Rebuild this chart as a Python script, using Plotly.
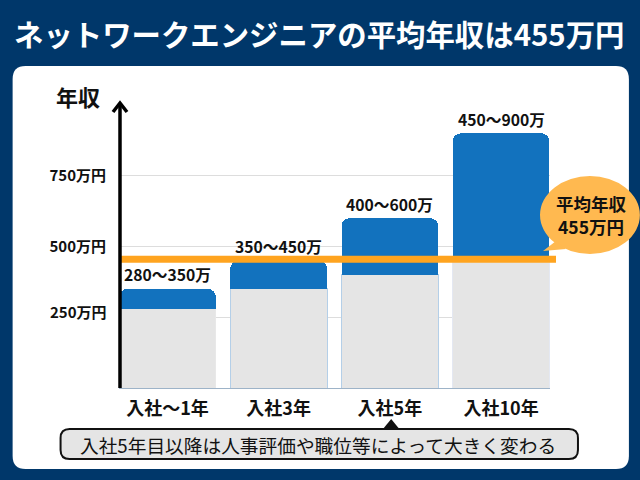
import plotly.graph_objects as go

categories = ["入社〜1年", "入社3年", "入社5年", "入社10年"]
low = [280, 350, 400, 450]
high = [350, 450, 600, 900]
range_labels = ["280〜350万", "350〜450万", "400〜600万", "450〜900万"]
average = 455
tick_vals = [250, 500, 750, 1000]
tick_text = ["", "500万円", "750万円", ""]
raised_tick = 250
raised_tick_text = "250万円"

FONT = "Noto Sans CJK JP"
NAVY = "#00376a"
BLUE = "#1272be"
GREY = "#e5e5e5"
ORANGE = "#ffa41f"
BUBBLE = "#ffb950"

# plot area in page pixels
L, R, T, B = 118.5, 550, 105, 388


def px(x):
    return (x - L) / (R - L)


def py(y):
    return (B - y) / (B - T)


def rounded(x0, y0, x1, y1, r):
    return (f"M{px(x0 + r)},{py(y0)} L{px(x1 - r)},{py(y0)} Q{px(x1)},{py(y0)} {px(x1)},{py(y0 + r)} "
            f"L{px(x1)},{py(y1 - r)} Q{px(x1)},{py(y1)} {px(x1 - r)},{py(y1)} L{px(x0 + r)},{py(y1)} "
            f"Q{px(x0)},{py(y1)} {px(x0)},{py(y1 - r)} L{px(x0)},{py(y0 + r)} Q{px(x0)},{py(y0)} {px(x0 + r)},{py(y0)} Z")


def paper_path(path, color, layer="above", line=None):
    return dict(type="path", xref="paper", yref="paper", path=path, fillcolor=color,
                line=line or dict(width=0), layer=layer)


def label(x, y, text, size, color="#111111", bold=True):
    return dict(xref="paper", yref="paper", x=px(x), y=py(y), text=f"<b>{text}</b>" if bold else text,
                showarrow=False, xanchor="center", yanchor="middle",
                font=dict(family=FONT, size=size, color=color))


fig = go.Figure()
fig.add_trace(go.Bar(x=categories, y=low, width=0.87, marker=dict(
    color=GREY, line=dict(color=["#e8e8e8", "#b4cfe8", "#b4cfe8", "#e4e8f2"], width=1))))
fig.add_trace(go.Bar(x=categories, y=[h - l for h, l in zip(high, low)], width=0.87,
                     marker=dict(color=BLUE, cornerradius=8, line=dict(width=0))))

shapes = [
    paper_path(rounded(12, 66, 629, 469, 13), "white", layer="below"),
    # average line
    dict(type="line", xref="paper", yref="y", x0=px(120), x1=px(556), y0=average, y1=average,
         line=dict(color=ORANGE, width=7), layer="above"),
    # y axis arrow
    dict(type="line", xref="paper", yref="paper", x0=px(119.5), x1=px(119.5), y0=py(388), y1=py(103),
         line=dict(color="black", width=3.5)),
    paper_path(f"M{px(112.5)},{py(112)} L{px(119.5)},{py(103)} L{px(126.5)},{py(112)}", "rgba(0,0,0,0)",
               line=dict(color="black", width=3.5)),
    # callout bubble
    dict(type="circle", xref="paper", yref="paper", x0=px(540), x1=px(640), y0=py(176), y1=py(254),
         fillcolor=BUBBLE, line=dict(width=0)),
    paper_path(f"M{px(543)},{py(251)} L{px(556)},{py(241)} L{px(566)},{py(249)} Z", BUBBLE),
    # note box with pointer
    paper_path(f"M{px(382)},{py(430)} L{px(391)},{py(419)} L{px(400)},{py(430)} Z", "#111111"),
    paper_path(rounded(60, 429, 578, 459, 9), GREY, line=dict(color="#111111", width=2)),
]

annotations = [
    label(319, 33, "ネットワークエンジニアの平均年収は455万円", 29.4, color="white"),
    label(77.5, 96, "年収", 22),
    label(592, 215, "平均年収<br>455万円", 17.5),
    label(318, 444, "入社5年目以降は人事評価や職位等によって大きく変わる", 18.7, color="#111111", bold=False),
    # this tick label sits above its gridline in the reference
    dict(xref="paper", yref="y", x=px(108), y=raised_tick, text=f"<b>{raised_tick_text}</b>", showarrow=False,
         xanchor="right", yanchor="middle", yshift=6, font=dict(family=FONT, size=15, color="#111111")),
]
for cat, top, text in zip(categories, high, range_labels):
    annotations.append(dict(x=cat, y=top, xref="x", yref="y", text=f"<b>{text}</b>", showarrow=False,
                            yanchor="middle", yshift=14, font=dict(family=FONT, size=15.7, color="#111111")))

fig.update_layout(
    width=640, height=480, barmode="stack", showlegend=False, hovermode=False,
    paper_bgcolor=NAVY, plot_bgcolor="rgba(0,0,0,0)",
    margin=dict(l=L, r=640 - R, t=T, b=480 - B, pad=0),
    shapes=shapes, annotations=annotations, font=dict(family=FONT),
)
fig.update_xaxes(range=[-0.436, 3.44], showgrid=False, showline=True, linecolor="#9db3c8", linewidth=1,
                 ticks="", ticklabelstandoff=4,
                 tickfont=dict(family=FONT, size=18, color="#111111", weight="bold"))
fig.update_yaxes(range=[0, 1000], tickvals=tick_vals, ticktext=tick_text, gridcolor="#dddddd", gridwidth=1,
                 zeroline=False, showline=False, ticks="", ticklabelstandoff=12,
                 tickfont=dict(family=FONT, size=15, color="#111111", weight="bold"))

# default page margin would push the chart off by 8px
fig.write_html("out.html", config=dict(displayModeBar=False),
               post_script="document.body.style.margin='0';document.documentElement.style.background='%s';" % NAVY)
